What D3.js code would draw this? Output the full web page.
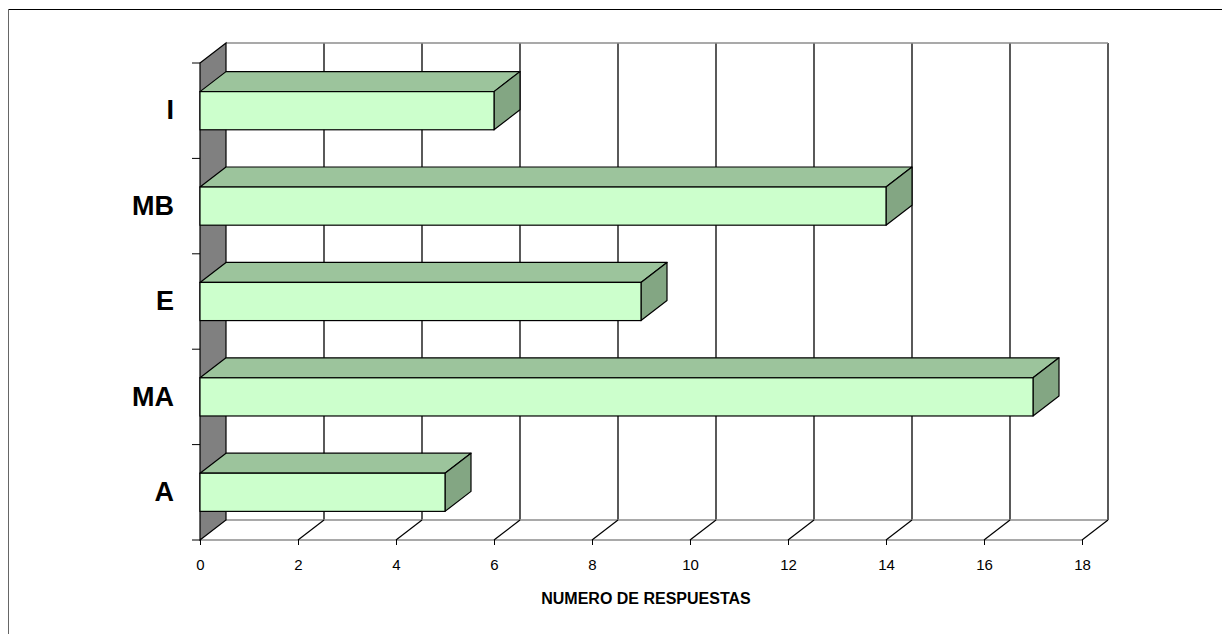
<!DOCTYPE html>
<html>
<head>
<meta charset="utf-8">
<script src="https://cdn.jsdelivr.net/npm/d3@7"></script>
<style>
  html, body { margin: 0; padding: 0; background: #fff; }
  svg { display: block; font-family: "Liberation Sans", Arial, sans-serif; }
</style>
</head>
<body>
<svg id="chart" width="1222" height="634"></svg>
<script>
const categories = ["I", "MB", "E", "MA", "A"];
const values = [6, 14, 9, 17, 5];
const xTicks = [0, 2, 4, 6, 8, 10, 12, 14, 16, 18];
const xTitle = "NUMERO DE RESPUESTAS";

(function () {
const W = 1222, H = 634;
const pLeft = 200, pRight = 1082, pTop = 63, pBottom = 540;
const dx = 26, dy = -20;

const svg = d3.select("#chart");

// outer frame
svg.append("line").attr("x1", 8).attr("x2", W).attr("y1", 9.5).attr("y2", 9.5)
  .attr("stroke", "#000").attr("stroke-width", 1);
svg.append("line").attr("x1", 8.5).attr("x2", 8.5).attr("y1", 9).attr("y2", H)
  .attr("stroke", "#666").attr("stroke-width", 1);

const x = d3.scaleLinear().domain([0, 18]).range([pLeft, pRight]);
const y = d3.scaleBand().domain(categories).range([pTop, pBottom]).paddingInner(0.6).paddingOuter(0.3);

const g = svg.append("g");

// back wall gridlines
g.selectAll(".vgrid").data(xTicks.slice(1)).join("line")
  .attr("x1", d => x(d) + dx).attr("x2", d => x(d) + dx)
  .attr("y1", pBottom + dy).attr("y2", pTop + dy)
  .attr("stroke", "#000").attr("stroke-width", 1.3);
// back wall top edge
g.append("line").attr("x1", pLeft + dx).attr("x2", pRight + dx).attr("y1", pTop + dy).attr("y2", pTop + dy)
  .attr("stroke", "#8c8c8c").attr("stroke-width", 1.3);
// floor
g.append("line").attr("x1", pLeft + dx).attr("x2", pRight + dx).attr("y1", pBottom + dy).attr("y2", pBottom + dy)
  .attr("stroke", "#8c8c8c").attr("stroke-width", 1.3);
g.append("line").attr("x1", pLeft).attr("x2", pRight).attr("y1", pBottom).attr("y2", pBottom)
  .attr("stroke", "#8c8c8c").attr("stroke-width", 1.3);
g.selectAll(".fgrid").data(xTicks.slice(1)).join("line")
  .attr("x1", d => x(d)).attr("x2", d => x(d) + dx)
  .attr("y1", pBottom).attr("y2", pBottom + dy)
  .attr("stroke", "#000").attr("stroke-width", 1.2);

// left wall
g.append("polygon")
  .attr("points", [[pLeft, pTop], [pLeft + dx, pTop + dy], [pLeft + dx, pBottom + dy], [pLeft, pBottom]].map(p => p.join(",")).join(" "))
  .attr("fill", "#808080").attr("stroke", "#000").attr("stroke-width", 1.2);

// bars
const bars = g.selectAll(".bar").data(categories.map((c, i) => ({ c, v: values[i] }))).join("g");
bars.each(function (d) {
  const b = d3.select(this);
  const x0 = x(0), x1 = x(d.v), y0 = y(d.c), y1 = y(d.c) + y.bandwidth();
  b.append("polygon")
    .attr("points", [[x0, y0], [x1, y0], [x1 + dx, y0 + dy], [x0 + dx, y0 + dy]].map(p => p.join(",")).join(" "))
    .attr("fill", "#9cc49c").attr("stroke", "#000").attr("stroke-width", 1.2).attr("stroke-linejoin", "round");
  b.append("polygon")
    .attr("points", [[x1, y0], [x1 + dx, y0 + dy], [x1 + dx, y1 + dy], [x1, y1]].map(p => p.join(",")).join(" "))
    .attr("fill", "#83a683").attr("stroke", "#000").attr("stroke-width", 1.2).attr("stroke-linejoin", "round");
  b.append("rect")
    .attr("x", x0).attr("y", y0).attr("width", x1 - x0).attr("height", y1 - y0)
    .attr("fill", "#ccffcc").attr("stroke", "#000").attr("stroke-width", 1.2);
});

// left category ticks (band boundaries)
const step = y.step();
const bounds = d3.range(categories.length + 1).map(i => pTop + i * step);
g.selectAll(".ytick").data(bounds).join("line")
  .attr("x1", pLeft - 8).attr("x2", pLeft).attr("y1", d => d).attr("y2", d => d)
  .attr("stroke", "#000").attr("stroke-width", 1);

// category labels
const yAxis = d3.axisLeft(y).tickSize(0).tickPadding(26);
const ya = svg.append("g").attr("transform", `translate(${pLeft},0)`).call(yAxis);
ya.select(".domain").remove();
ya.selectAll("text").attr("font-size", 27).attr("font-weight", "bold").attr("fill", "#000")
  .attr("font-family", "Liberation Sans, Arial, sans-serif");

// x axis ticks & labels
const xAxis = d3.axisBottom(x).tickValues(xTicks).tickSize(5).tickPadding(14).tickFormat(d3.format("d"));
const xa = svg.append("g").attr("transform", `translate(0,${pBottom})`).call(xAxis);
xa.select(".domain").remove();
xa.selectAll("line").attr("stroke", "#000");
xa.selectAll("text").attr("font-size", 15).attr("fill", "#000")
  .attr("font-family", "Liberation Sans, Arial, sans-serif");

// axis title
svg.append("text").attr("x", (pLeft + pRight) / 2 + 5).attr("y", 604)
  .attr("text-anchor", "middle").attr("font-size", 16).attr("font-weight", "bold")
  .text(xTitle);
})();
</script>
</body>
</html>
